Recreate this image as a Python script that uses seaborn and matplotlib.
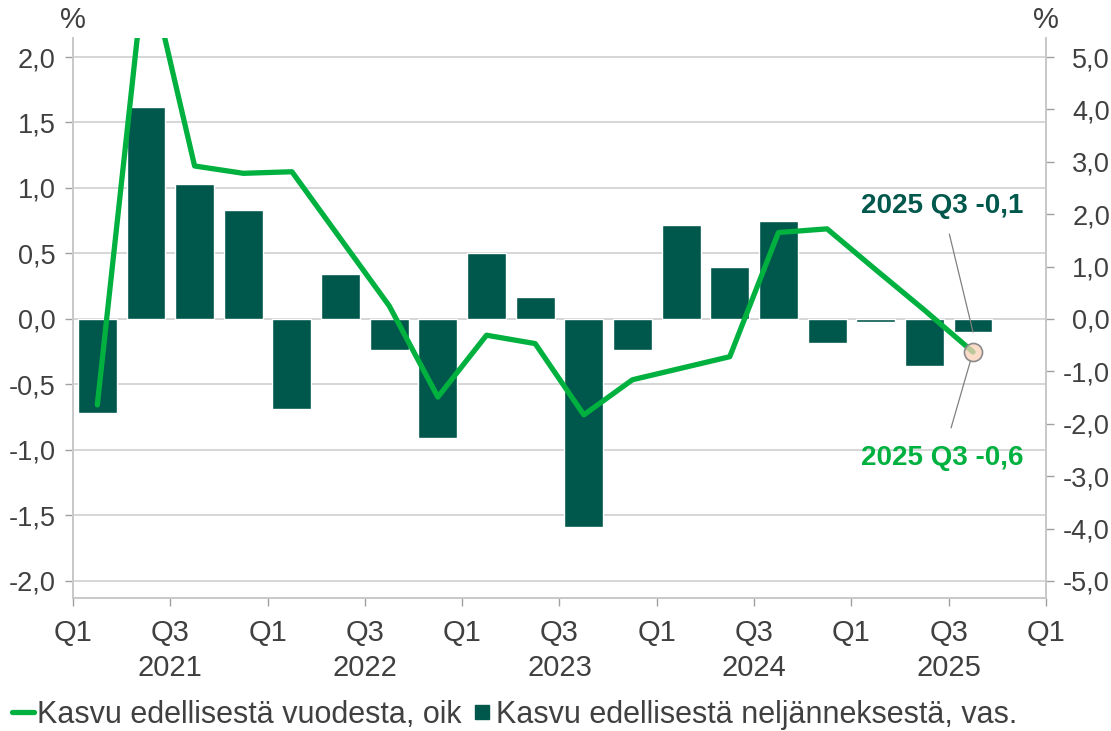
import numpy as np
import pandas as pd
import matplotlib
matplotlib.use("Agg")
import matplotlib.pyplot as plt
from matplotlib.lines import Line2D
import seaborn as sns

sns.set_theme(style="white")
plt.rcParams['font.family'] = ['Liberation Sans', 'DejaVu Sans']

# quarters 2021 Q1 .. 2025 Q3
quarters = ["2021 Q1", "2021 Q2", "2021 Q3", "2021 Q4",
            "2022 Q1", "2022 Q2", "2022 Q3", "2022 Q4",
            "2023 Q1", "2023 Q2", "2023 Q3", "2023 Q4",
            "2024 Q1", "2024 Q2", "2024 Q3", "2024 Q4",
            "2025 Q1", "2025 Q2", "2025 Q3"]
qoq = [-0.72, 1.62, 1.03, 0.83, -0.69, 0.34, -0.24, -0.91, 0.50, 0.17,
       -1.59, -0.24, 0.72, 0.40, 0.75, -0.18, -0.02, -0.36, -0.10]
yoy = [-1.64, 6.9, 2.92, 2.78, 2.81, 1.53, 0.25, -1.49, -0.31, -0.47,
       -1.83, -1.16, -0.94, -0.72, 1.65, 1.72, 0.94, 0.17, -0.63]
tick_labels = ["Q1", "Q3\n2021", "Q1", "Q3\n2022", "Q1", "Q3\n2023",
               "Q1", "Q3\n2024", "Q1", "Q3\n2025", "Q1"]
left_ticks = [-2.0, -1.5, -1.0, -0.5, 0.0, 0.5, 1.0, 1.5, 2.0]
right_ticks = [-5, -4, -3, -2, -1, 0, 1, 2, 3, 4, 5]
label_qoq = "Kasvu edellisestä neljänneksestä, vas."
label_yoy = "Kasvu edellisestä vuodesta, oik"

dark = "#00574B"
green = "#00B140"
txt = "#404040"
axcol = "#C8C8C8"


def fi(v):
    return f"{v:.1f}".replace(".", ",")


df = pd.DataFrame({"pos": np.arange(len(quarters)), "quarter": quarters,
                   "qoq": qoq, "yoy": yoy})

fig = plt.figure(figsize=(11.11, 7.31), dpi=100)
ax = fig.add_axes([0.0657, 0.182, 0.8758, 0.766])
ax2 = ax.twinx()

sns.barplot(data=df, x="pos", y="qoq", native_scale=True, color=dark,
            width=0.8, saturation=1, ax=ax, zorder=2)
sns.lineplot(data=df, x="pos", y="yoy", color=green, lw=3.8, ax=ax2,
             zorder=3)
ax2.plot(df["pos"].iloc[-1], df["yoy"].iloc[-1], "o", ms=13,
         mfc=(0.98, 0.82, 0.72, 0.75), mec="#8A8A8A", mew=1.2, zorder=4)

ax.set_xlim(-0.5, 19.5)
ax.set_ylim(-2.13, 2.145)
ax2.set_ylim(-5.325, 5.3625)
ax.set_yticks(left_ticks)
ax.set_yticklabels([fi(v) for v in left_ticks])
ax2.set_yticks(right_ticks)
ax2.set_yticklabels([fi(v) for v in right_ticks], ha="right")
ax.set_xticks(np.arange(-0.5, 19.6, 2))
ax.set_xticklabels(tick_labels, linespacing=1.35)
ax.set_xlabel("")
ax.set_ylabel("")
ax2.set_ylabel("")

ax.grid(axis="y", color="#D0D0D0", lw=1.2, zorder=0)
ax.set_axisbelow(True)
for a in (ax, ax2):
    a.spines["top"].set_visible(False)
    for s in ("left", "right", "bottom"):
        a.spines[s].set_color(axcol)
        a.spines[s].set_linewidth(1.2)
    a.tick_params(colors=txt, labelsize=19.5, length=6, width=1,
                  color="#A0A0A0")
ax.tick_params(axis="y", left=True, pad=6.5)
ax.tick_params(axis="x", bottom=True, pad=9, labelsize=21)
ax2.tick_params(axis="y", right=True, pad=40)

ax.annotate("%", xy=(0, 1), xycoords="axes fraction", xytext=(0, 13),
            textcoords="offset points", ha="center", va="center",
            fontsize=21, color=txt)
ax.annotate("%", xy=(1, 1), xycoords="axes fraction", xytext=(0, 13),
            textcoords="offset points", ha="center", va="center",
            fontsize=21, color=txt)

ax.annotate("2025 Q3 -0,1", xy=(df["pos"].iloc[-1], qoq[-1]),
            xytext=(-22, 91), textcoords="offset points", ha="center",
            va="center", fontsize=20, fontweight="bold", color=dark,
            arrowprops=dict(arrowstyle="-", color="#808080", lw=0.9,
                            shrinkA=9, shrinkB=0), zorder=5)
ax2.annotate("2025 Q3 -0,6", xy=(df["pos"].iloc[-1], yoy[-1]),
             xytext=(-22, -76), textcoords="offset points", ha="center",
             va="center", fontsize=20, fontweight="bold", color=green,
             arrowprops=dict(arrowstyle="-", color="#808080", lw=0.9,
                             shrinkA=10, shrinkB=7), zorder=5)

handles = [Line2D([], [], color=green, lw=3.8),
           Line2D([], [], color=dark, marker="s", ms=10, ls="none")]
fig.legend(handles, [label_yoy, label_qoq], loc="center left",
           bbox_to_anchor=(12 / 1111, 1 - 715 / 731), ncol=2, frameon=False,
           fontsize=22, handlelength=0.72, handletextpad=0.1,
           columnspacing=0.3, borderpad=0, borderaxespad=0, labelcolor=txt)

fig.savefig("out.png", dpi=100)
